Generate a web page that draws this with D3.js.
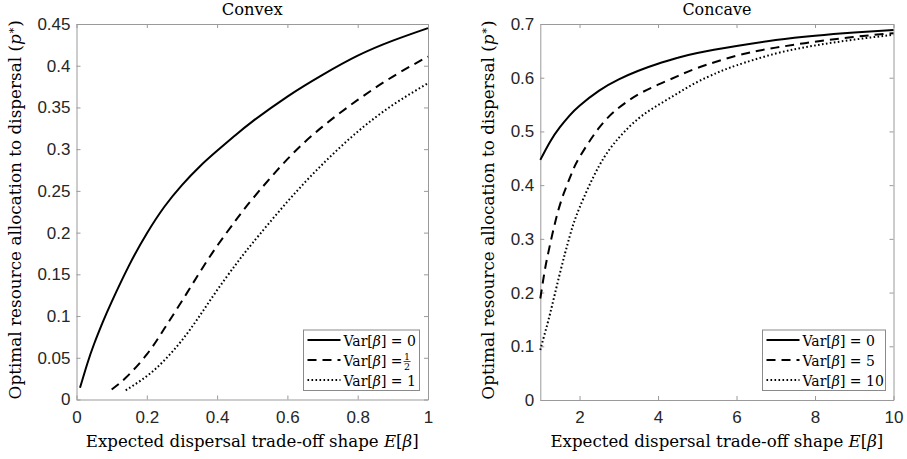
<!DOCTYPE html>
<html><head><meta charset="utf-8">
<script src="https://cdn.jsdelivr.net/npm/d3@7/dist/d3.min.js"></script>
<style>
body{margin:0;background:#fff;}
svg{display:block;}
</style></head>
<body>
<svg id="chart" width="907" height="459"></svg>
<script>
// ---------- data ----------
const convexTitle = "Convex";
const concaveTitle = "Concave";
const xLabelMain = "Expected dispersal trade-off shape ";
const yLabelMain = "Optimal resource allocation to dispersal ";

const convexXTicks = [0, 0.2, 0.4, 0.6, 0.8, 1];
const convexYTicks = [0, 0.05, 0.1, 0.15, 0.2, 0.25, 0.3, 0.35, 0.4, 0.45];
const concaveXTicks = [2, 4, 6, 8, 10];
const concaveYTicks = [0, 0.1, 0.2, 0.3, 0.4, 0.5, 0.6, 0.7];

// Convex, Var = 0 (solid)
const convexE0 = [0.01,0.03,0.05,0.075,0.1,0.15,0.2,0.25,0.3,0.35,0.4,0.45,0.5,0.6,0.7,0.8,0.9,1.0];
const convexP0 = [0.014,0.042,0.0665,0.093,0.117,0.161,0.199,0.231,0.257,0.279,0.298,0.316,0.333,0.363,0.389,0.412,0.430,0.445];
// Convex, Var = 1/2 (dashed)
const convexE1 = [0.1,0.14,0.2,0.25,0.3,0.35,0.4,0.45,0.5,0.6,0.7,0.8,0.9,1.0];
const convexP1 = [0.012,0.026,0.054,0.085,0.118,0.152,0.184,0.213,0.240,0.288,0.327,0.359,0.387,0.411];
// Convex, Var = 1 (dotted)
const convexE2 = [0.14,0.2,0.25,0.3,0.35,0.4,0.45,0.5,0.6,0.7,0.8,0.9,1.0];
const convexP2 = [0.011,0.028,0.047,0.071,0.100,0.131,0.160,0.187,0.237,0.282,0.321,0.353,0.379];

// Concave, Var = 0 (solid)
const concaveE0 = [1,1.25,1.5,1.75,2,2.5,3,3.5,4,4.5,5,6,7,8,9,10];
const concaveP0 = [0.447,0.481,0.508,0.530,0.548,0.576,0.597,0.613,0.626,0.637,0.646,0.659,0.670,0.678,0.684,0.689];
// Concave, Var = 5 (dashed)
const concaveE1 = [1,1.1,1.2,1.4,1.6,1.8,2,2.5,3,3.5,4,4.5,5,6,7,8,9,10];
const concaveP1 = [0.189,0.235,0.273,0.337,0.385,0.422,0.452,0.507,0.544,0.569,0.587,0.603,0.618,0.641,0.656,0.667,0.676,0.683];
// Concave, Var = 10 (dotted)
const concaveE2 = [1,1.1,1.25,1.5,1.75,2,2.5,3,3.5,4,4.5,5,5.5,6,7,8,9,10];
const concaveP2 = [0.093,0.120,0.161,0.236,0.305,0.358,0.436,0.488,0.524,0.549,0.571,0.592,0.609,0.623,0.645,0.660,0.671,0.680];

const convexLegend = ["0", "1/2", "1"];
const concaveLegend = ["0", "5", "10"];

// ---------- drawing ----------
const svg = d3.select("#chart");
const serif = "'DejaVu Serif','Liberation Serif',serif";
const sans = "'Liberation Sans',Arial,Helvetica,sans-serif";
const axisCol = "#9a9a9a";
const textCol = "#262626";
const dashes = [null, "9,6", "1.6,2.4"];

function zip(xs, ys){ return xs.map((x,i)=>[x, ys[i]]); }

// scale a text element's font size so that it spans a target width
function fitWidth(sel, target){
  const w = sel.node().getComputedTextLength();
  const fs = parseFloat(sel.style("font-size"));
  sel.style("font-size", (fs * target / w).toFixed(2) + "px");
}

function panel(cfg){
  const g = svg.append("g");
  const x = d3.scaleLinear().domain(cfg.xDomain).range([cfg.left, cfg.right]);
  const y = d3.scaleLinear().domain(cfg.yDomain).range([cfg.bottom, cfg.top]);

  g.append("rect").attr("x", cfg.left).attr("y", cfg.top)
    .attr("width", cfg.right-cfg.left).attr("height", cfg.bottom-cfg.top)
    .attr("fill", "#fff");

  const fmt = d => d === 0 ? "0" : String(+d.toFixed(2));

  const ax = [
    g.append("g").attr("transform", `translate(0,${cfg.bottom})`)
      .call(d3.axisBottom(x).tickValues(cfg.xTicks).tickFormat(fmt).tickSizeInner(-4).tickSizeOuter(0).tickPadding(11)),
    g.append("g").attr("transform", `translate(${cfg.left},0)`)
      .call(d3.axisLeft(y).tickValues(cfg.yTicks).tickFormat(fmt).tickSizeInner(-4).tickSizeOuter(0).tickPadding(6)),
    g.append("g").attr("transform", `translate(0,${cfg.top})`)
      .call(d3.axisTop(x).tickValues(cfg.xTicks).tickFormat("").tickSizeInner(-4).tickSizeOuter(0)),
    g.append("g").attr("transform", `translate(${cfg.right},0)`)
      .call(d3.axisRight(y).tickValues(cfg.yTicks).tickFormat("").tickSizeInner(-4).tickSizeOuter(0))
  ];
  ax.forEach(a => {
    a.select(".domain").attr("stroke", axisCol).attr("stroke-width", 1);
    a.selectAll(".tick line").attr("stroke", axisCol).attr("stroke-width", 1);
    a.selectAll(".tick text").attr("fill", textCol).style("font-family", sans).style("font-size", "17px");
  });

  // curves
  const line = d3.line().x(d => x(d[0])).y(d => y(d[1])).curve(d3.curveNatural);
  cfg.series.forEach((s, i) => {
    g.append("path").datum(zip(s[0], s[1]))
      .attr("d", line).attr("fill", "none").attr("stroke", "#000")
      .attr("stroke-width", 2)
      .attr("stroke-dasharray", dashes[i]);
  });

  // title
  const tt = g.append("text").attr("x", (cfg.left+cfg.right)/2).attr("y", 15)
    .attr("text-anchor", "middle").attr("fill", "#000")
    .style("font-family", serif).style("font-size", "16px").text(cfg.title);
  fitWidth(tt, cfg.titleW);

  // x label
  const xl = g.append("text").attr("x", (cfg.left+cfg.right)/2).attr("y", 447)
    .attr("text-anchor", "middle").attr("fill", "#000")
    .style("font-family", serif).style("font-size", "16px");
  xl.append("tspan").text(xLabelMain);
  xl.append("tspan").attr("font-style", "italic").text("E");
  xl.append("tspan").text("[");
  xl.append("tspan").attr("font-style", "italic").text("β");
  xl.append("tspan").text("]");
  fitWidth(xl, 333);

  // y label
  const yl = g.append("text")
    .attr("transform", `translate(${cfg.yLabelX},${(cfg.top+cfg.bottom)/2 - 2}) rotate(-90)`)
    .attr("text-anchor", "middle").attr("fill", "#000")
    .style("font-family", serif).style("font-size", "16px");
  yl.append("tspan").text(yLabelMain + "(");
  yl.append("tspan").attr("font-style", "italic").text("p");
  yl.append("tspan").attr("dy", -6).style("font-size", "11px").text("∗");
  yl.append("tspan").attr("dy", 6).text(")");
  fitWidth(yl, 380);

  // legend
  const L = cfg.legend;
  const lg = g.append("g");
  lg.append("rect").attr("x", L.x).attr("y", L.y).attr("width", L.w).attr("height", L.h)
    .attr("fill", "#fff").attr("stroke", "#8a8a8a").attr("stroke-width", 1);
  cfg.legendVals.forEach((v, i) => {
    const ry = L.y + 10 + i*20;
    lg.append("line").attr("x1", L.x+4).attr("x2", L.x+37).attr("y1", ry).attr("y2", ry)
      .attr("stroke", "#000").attr("stroke-width", 2).attr("stroke-dasharray", dashes[i]);
    const t = lg.append("text").attr("x", L.x+40).attr("y", ry+5.5)
      .attr("fill", "#000").style("font-family", serif).style("font-size", "14px");
    t.append("tspan").text("Var[");
    t.append("tspan").attr("font-style", "italic").text("β");
    if (v.indexOf("/") < 0) {
      t.append("tspan").text("] = " + v);
    } else {
      t.append("tspan").text("] = ");
      const parts = v.split("/");
      const tx = L.x + 40 + t.node().getComputedTextLength() + 1;
      const bar = ry + 1.5;
      lg.append("text").attr("x", tx+3.5).attr("y", bar-1.5).attr("text-anchor", "middle")
        .style("font-family", serif).style("font-size", "9.5px").text(parts[0]);
      lg.append("line").attr("x1", tx).attr("x2", tx+7).attr("y1", bar).attr("y2", bar)
        .attr("stroke", "#000").attr("stroke-width", 0.7);
      lg.append("text").attr("x", tx+3.5).attr("y", bar+8).attr("text-anchor", "middle")
        .style("font-family", serif).style("font-size", "9.5px").text(parts[1]);
    }
  });
}

panel({
  left: 76.5, right: 428, top: 24, bottom: 399.5,
  xDomain: [0, 1], yDomain: [0, 0.45],
  xTicks: convexXTicks, yTicks: convexYTicks,
  title: convexTitle, titleW: 61, yLabelX: 21,
  series: [[convexE0, convexP0], [convexE1, convexP1], [convexE2, convexP2]],
  legend: {x: 303.5, y: 330, w: 116, h: 60.5},
  legendVals: convexLegend
});

panel({
  left: 540.3, right: 893.5, top: 24, bottom: 400,
  xDomain: [1, 10], yDomain: [0, 0.7],
  xTicks: concaveXTicks, yTicks: concaveYTicks,
  title: concaveTitle, titleW: 69, yLabelX: 494,
  series: [[concaveE0, concaveP0], [concaveE1, concaveP1], [concaveE2, concaveP2]],
  legend: {x: 762.5, y: 330, w: 123, h: 60.5},
  legendVals: concaveLegend
});
</script>
</body></html>
